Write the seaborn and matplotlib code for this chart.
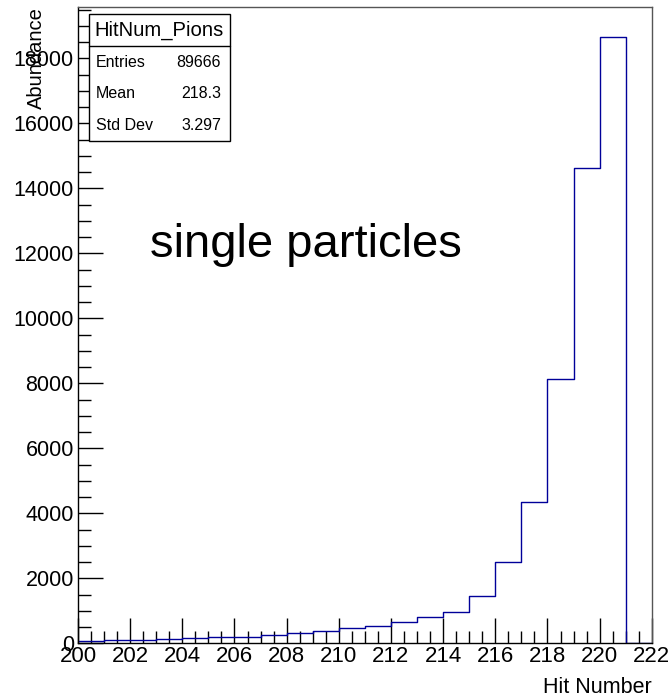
import matplotlib
matplotlib.use("Agg")
import matplotlib.pyplot as plt
from matplotlib.ticker import MultipleLocator
import numpy as np
import pandas as pd
import seaborn as sns

# Hit-number histogram for single pions, 1-unit bins from 200 to 222
bin_edges = list(range(200, 223))
bin_counts = [80, 111, 111, 142, 172, 203, 203, 265, 308, 388, 462,
              523, 646, 800, 972, 1455, 2511, 4357, 8123, 14615, 18646, 0]
hist_name = "HitNum_Pions"
stat_labels = ["Entries", "Mean", "Std Dev"]
stat_values = ["89666", "218.3", "3.297"]

sns.set_theme(style="white")
plt.rcParams["font.family"] = ["Liberation Sans", "DejaVu Sans"]
plt.rcParams["text.color"] = "black"
plt.rcParams["axes.labelcolor"] = "black"
plt.rcParams["xtick.color"] = "black"
plt.rcParams["ytick.color"] = "black"

df = pd.DataFrame({
    "hits": [e + 0.5 for e in bin_edges[:-1]],
    "count": bin_counts,
})

fig = plt.figure(figsize=(6.72, 7.0), dpi=100)
ax = fig.add_axes([0.116, 0.081, 0.854, 0.909])

sns.histplot(data=df, x="hits", weights="count", bins=bin_edges,
             element="step", fill=False, color="#000099", linewidth=1.0, ax=ax)

ax.set_xlim(200, 222)
ax.set_ylim(0, max(bin_counts) * 1.05)

ax.xaxis.set_major_locator(MultipleLocator(2))
ax.xaxis.set_minor_locator(MultipleLocator(0.5))
ax.yaxis.set_major_locator(MultipleLocator(2000))
ax.yaxis.set_minor_locator(MultipleLocator(500))
ax.tick_params(axis="both", which="both", direction="in", bottom=True, left=True,
               top=False, right=False, color="black", width=1.0)
ax.tick_params(axis="both", which="major", length=18)
ax.tick_params(axis="both", which="minor", length=9)
ax.tick_params(axis="x", which="major", labelsize=16, pad=2, labelcolor="black")
ax.tick_params(axis="y", which="major", labelsize=15.5, pad=3, labelcolor="black")

for side in ["left", "bottom"]:
    ax.spines[side].set_color("black")
    ax.spines[side].set_linewidth(1.0)
for side in ["top", "right"]:
    ax.spines[side].set_color("#555555")
    ax.spines[side].set_linewidth(1.0)
    ax.spines[side].set_visible(True)

ax.set_xlabel("Hit Number", fontsize=15.5, loc="right", labelpad=7.5, color="black")
ax.set_ylabel("Abundance", fontsize=14.5, loc="top", color="black")
ax.yaxis.set_label_coords(-0.056, 1.0)

ax.text(202.76, 11886, "single particles", fontsize=34, va="baseline", ha="left",
        color="black")

# Statistics box in figure pixel coordinates
W, H = 672, 700
def fx(px):
    return px / W
def fy(py):
    return 1 - py / H

box_l, box_r, box_t, box_b, sep = 88.5, 230, 14, 141, 45.5
fig.patches.append(plt.Rectangle((fx(box_l), fy(box_b)), fx(box_r) - fx(box_l),
                                 fy(box_t) - fy(box_b), transform=fig.transFigure,
                                 facecolor="white", edgecolor="black", linewidth=1.0,
                                 zorder=5))
fig.lines.append(plt.Line2D([fx(box_l), fx(box_r)], [fy(sep), fy(sep)],
                            transform=fig.transFigure, color="black", linewidth=1.0,
                            zorder=6))
fig.text(fx((box_l + box_r) / 2), fy(30), hist_name, fontsize=14.6, ha="center",
         va="center", color="black", zorder=7)
row_y = [62.3, 93.8, 125.7]
for lab, val, yy in zip(stat_labels, stat_values, row_y):
    fig.text(fx(96), fy(yy), lab, fontsize=11.5, ha="left", va="center",
             color="black", zorder=7)
    fig.text(fx(221), fy(yy), val, fontsize=11.5, ha="right", va="center",
             color="black", zorder=7)

fig.savefig("out.png", dpi=100, facecolor="white")
